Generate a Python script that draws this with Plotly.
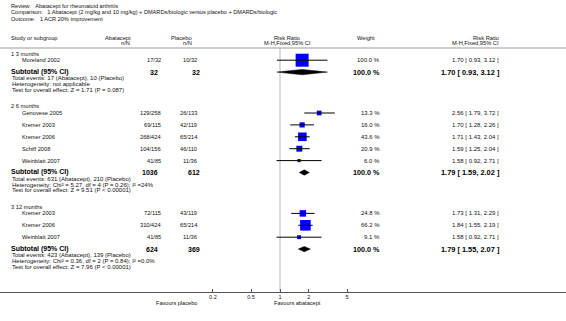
import plotly.graph_objects as go

# ---------------- data ----------------
title_lines = [
    "Review:   Abatacept for rheumatoid arthritis",
    "Comparison:   1 Abatacept (2 mg/kg and 10 mg/kg) + DMARDs/biologic versus placebo + DMARDs/biologic",
    "Outcome:   1 ACR 20% improvement",
]
group_names = ["1 3 months", "2 6 months", "3 12 months"]
study_group = [0, 1, 1, 1, 1, 1, 2, 2, 2]
study_names = ["Moreland 2002", "Genovese 2005", "Kremer 2003", "Kremer 2006", "Schiff 2008",
               "Weinblatt 2007", "Kremer 2003", "Kremer 2006", "Weinblatt 2007"]
abatacept_nN = ["17/32", "129/258", "69/115", "268/424", "104/156", "41/85", "72/115", "310/424", "41/85"]
placebo_nN = ["10/32", "26/133", "42/119", "65/214", "46/110", "11/36", "43/119", "65/214", "11/36"]
weights = [100.0, 13.3, 16.0, 43.6, 20.9, 6.0, 24.8, 66.2, 9.1]
rr = [1.70, 2.56, 1.70, 1.71, 1.59, 1.58, 1.73, 1.84, 1.58]
ci_low = [0.93, 1.79, 1.28, 1.43, 1.25, 0.92, 1.31, 1.55, 0.92]
ci_high = [3.12, 3.72, 2.26, 2.04, 2.04, 2.71, 2.29, 2.19, 2.71]

sub_abatacept = [32, 1036, 624]
sub_placebo = [32, 612, 369]
sub_weight = [100.0, 100.0, 100.0]
sub_rr = [1.70, 1.79, 1.79]
sub_low = [0.93, 1.59, 1.55]
sub_high = [3.12, 2.02, 2.07]
total_events = ["Total events: 17 (Abatacept), 10 (Placebo)",
                "Total events: 631 (Abatacept), 210 (Placebo)",
                "Total events: 423 (Abatacept), 139 (Placebo)"]
heterogeneity = ["Heterogeneity: not applicable",
                 "Heterogeneity: Chi² = 5.27, df = 4 (P = 0.26); I² =24%",
                 "Heterogeneity: Chi² = 0.36, df = 2 (P = 0.84); I² =0.0%"]
overall_test = ["Test for overall effect: Z = 1.71 (P = 0.087)",
                "Test for overall effect: Z = 9.51 (P < 0.00001)",
                "Test for overall effect: Z = 7.96 (P < 0.00001)"]
tick_vals = [0.2, 0.5, 1, 2, 5]
tick_text = ["0.2", "0.5", "1", "2", "5"]
favours_left = "Favours placebo"
favours_right = "Favours abatacept"

# ---------------- layout constants ----------------
W, H = 566, 321
FONT = "Liberation Sans, Arial, Helvetica, sans-serif"
PX_PER_DECADE = 96.0
X_ONE = 280.0          # pixel of RR = 1
AXIS_Y = 291.5
BLUE = "#0000ff"

def px(x):
    return x / W

annotations = []

def text(x, y, s, anchor="left", size=5.7, bold=False, color="#111"):
    annotations.append(dict(
        x=px(x), y=y, xref="paper", yref="y", text=("<b>%s</b>" % s) if bold else s,
        showarrow=False, xanchor=anchor, yanchor="middle", borderpad=0, borderwidth=0,
        font=dict(family=FONT, size=size, color=color)))

# titles
for i, t in enumerate(title_lines):
    text(11, 5.5 + i * 6.6, t, size=5.6)

# headers
text(11, 37.5, "Study or subgroup", size=5.7)
text(131, 37.5, "Abatacept", anchor="right", size=5.7)
text(130, 43, "n/N", anchor="right", size=5.7)
text(192, 37.5, "Placebo", anchor="right", size=5.7)
text(191.5, 43, "n/N", anchor="right", size=5.7)
text(287.5, 37.5, "Risk Ratio", anchor="center", size=5.7)
text(287.5, 43, "M-H,Fixed,95% CI", anchor="center", size=5.7)
text(366, 37.5, "Weight", anchor="center", size=5.7)
text(498.5, 37.5, "Risk Ratio", anchor="right", size=5.7)
text(498.5, 43, "M-H,Fixed,95% CI", anchor="right", size=5.7)

# rows
row_y = []
sub_y = []
y = 53.5
for g in range(len(group_names)):
    text(11, y, group_names[g], size=5.7)
    y += 6.7
    idx = [i for i, gg in enumerate(study_group) if gg == g]
    for k, i in enumerate(idx):
        row_y.append(y)
        text(22, y, study_names[i], size=5.7)
        text(160.5, y, abatacept_nN[i], anchor="right", size=5.7)
        text(196.5, y, placebo_nN[i], anchor="right", size=5.7)
        text(380, y, "%.1f %%" % weights[i], anchor="right", size=6.0)
        text(499, y, "%.2f [ %.2f, %.2f ]" % (rr[i], ci_low[i], ci_high[i]), anchor="right", size=6.0)
        y += 11.9
    sub_y.append(y)
    text(11, y - 0.3, "Subtotal (95% CI)", bold=True, size=7.0, color="#000")
    text(157.5, y, str(sub_abatacept[g]), anchor="right", bold=True, size=7.0, color="#000")
    text(200, y, str(sub_placebo[g]), anchor="right", bold=True, size=7.0, color="#000")
    text(380, y, "%.1f %%" % sub_weight[g], anchor="right", bold=True, size=7.2, color="#000")
    text(500, y, "%.2f [ %.2f, %.2f ]" % (sub_rr[g], sub_low[g], sub_high[g]), anchor="right",
         bold=True, size=7.4, color="#000")
    text(12, y + 6.2, total_events[g], size=6.0)
    text(12, y + 12.0, heterogeneity[g], size=6.0)
    text(12, y + 17.8, overall_test[g], size=6.0)
    y += 17.8 + 16.4

# favours labels
text(176.7, 302.5, favours_left, anchor="center", size=5.6)
text(297.7, 302.5, favours_right, anchor="center", size=5.6)

fig = go.Figure()

# CI lines and boxes
for i in range(len(rr)):
    side = max(3.0, 13.0 * (weights[i] / 100.0) ** 0.5)
    fig.add_trace(go.Scatter(x=[rr[i]], y=[row_y[i]], mode="markers",
                             marker=dict(symbol="square", size=side, color=BLUE, line=dict(width=0)),
                             hoverinfo="skip", showlegend=False))
    fig.add_trace(go.Scatter(x=[ci_low[i], ci_high[i]], y=[row_y[i], row_y[i]], mode="lines",
                             line=dict(color="#000", width=1), hoverinfo="skip", showlegend=False))

# diamonds
HALF = 2.7
for g in range(len(sub_rr)):
    yy = sub_y[g]
    fig.add_trace(go.Scatter(
        x=[sub_low[g], sub_rr[g], sub_high[g], sub_rr[g], sub_low[g]],
        y=[yy, yy - HALF, yy, yy + HALF, yy],
        mode="lines", fill="toself", fillcolor="#000", line=dict(color="#000", width=0.5),
        hoverinfo="skip", showlegend=False))

shapes = [
    # header separator
    dict(type="line", xref="paper", yref="y", x0=0, x1=1, y0=48, y1=48,
         line=dict(color="#9a9a9a", width=1)),
    # line of no effect
    dict(type="line", xref="x", yref="y", x0=1, x1=1, y0=48.5, y1=AXIS_Y,
         line=dict(color="#dcdcdc", width=2), layer="below"),
]

lo_log = -X_ONE / PX_PER_DECADE
hi_log = (W - X_ONE) / PX_PER_DECADE

fig.update_layout(
    width=W, height=H, autosize=False,
    margin=dict(l=0, r=0, t=0, b=0, pad=0),
    paper_bgcolor="#ffffff", plot_bgcolor="rgba(0,0,0,0)",
    showlegend=False,
    annotations=annotations,
    shapes=shapes,
    xaxis=dict(type="log", range=[lo_log, hi_log], domain=[0, 1],
               anchor="free", position=(H - AXIS_Y) / H,
               showgrid=False, zeroline=False, showline=True, linecolor="#555", linewidth=1,
               ticks="inside", ticklen=3, tickcolor="#555", tickwidth=1,
               tickvals=tick_vals, ticktext=tick_text,
               tickfont=dict(family=FONT, size=5.6, color="#222"), fixedrange=True),
    yaxis=dict(range=[H, 0], domain=[0, 1], visible=False, showgrid=False, zeroline=False,
               fixedrange=True),
)

fig.write_html(
    "out.html",
    config={"displayModeBar": False},
    post_script="document.body.style.margin='0';document.body.style.overflow='hidden';",
)
